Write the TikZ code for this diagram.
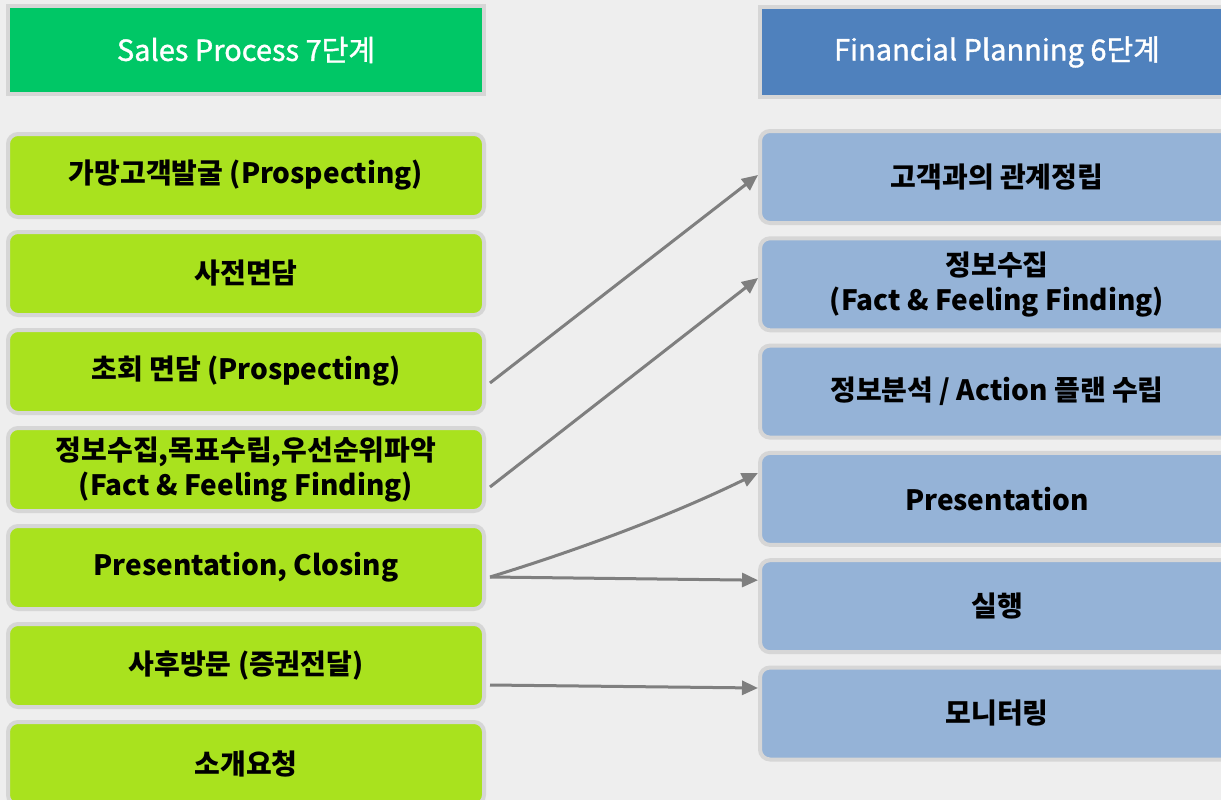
\documentclass[tikz,border=0pt]{standalone}
\usepackage{fontspec}
\setmainfont{Noto Sans CJK KR}
\newfontfamily\headfont{Noto Sans CJK KR}[FakeBold=1.2]
\usetikzlibrary{arrows.meta}
\definecolor{bg}{HTML}{EEEEEE}
\definecolor{edge}{HTML}{D6D6D6}
\definecolor{salesgreen}{HTML}{00C766}
\definecolor{fpblue}{HTML}{4F81BD}
\definecolor{lime}{HTML}{A9E21E}
\definecolor{paleblue}{HTML}{95B3D7}
\definecolor{link}{HTML}{7F7F7F}
\begin{document}
\begin{tikzpicture}[x=1pt,y=-1pt,
  header/.style={draw=edge, line width=4pt, inner sep=0pt, text=white,
    font=\headfont\fontsize{29}{34}\selectfont},
  leftbox/.style={draw=edge, fill=lime, line width=4pt, rounded corners=10pt,
    minimum width=476pt, minimum height=83pt, inner sep=0pt, align=center,
    font=\bfseries\fontsize{28}{35}\selectfont},
  rightbox/.style={draw=edge, fill=paleblue, line width=4pt, rounded corners=10pt,
    minimum width=474pt, minimum height=92pt, inner sep=0pt, align=center,
    font=\bfseries\fontsize{28}{35}\selectfont},
  link/.style={draw=link, line width=3pt, -{Triangle[length=16pt,width=14pt]}}]
\fill[bg] (0,0) rectangle (1221,800);
\clip (0,0) rectangle (1221,800);

% column headers
\node[header, fill=salesgreen, minimum width=476pt, minimum height=88pt] (hl) at (246,50) {Sales Process 7단계};
\node[header, fill=fpblue, minimum width=474pt, minimum height=90pt] (hr) at (997,52) {Financial Planning 6단계};

% sales process steps
\node[leftbox] (l1) at (246,175.5) {가망고객발굴 (Prospecting)};
\node[leftbox] (l2) at (246,273.5) {사전면담};
\node[leftbox] (l3) at (246,371.5) {초회 면담 (Prospecting)};
\node[leftbox] (l4) at (246,469.5) {정보수집,목표수립,우선순위파악\\(Fact \& Feeling Finding)};
\node[leftbox] (l5) at (246,567.5) {Presentation, Closing};
\node[leftbox] (l6) at (246,665.5) {사후방문 (증권전달)};
\node[leftbox] (l7) at (246,763.5) {소개요청};

% financial planning steps
\node[rightbox] (r1) at (997,177) {고객과의 관계정립};
\node[rightbox] (r2) at (997,284.3) {정보수집\\(Fact \& Feeling Finding)};
\node[rightbox] (r3) at (997,391.6) {정보분석 / Action 플랜 수립};
\node[rightbox] (r4) at (997,498.9) {Presentation};
\node[rightbox] (r5) at (997,606.2) {실행};
\node[rightbox] (r6) at (997,713.5) {모니터링};

% correspondences
\draw[link] ([shift={(4,11.5)}]l3.east) -- ([shift={(0,-2)}]r1.west);
\draw[link] ([shift={(4,17.5)}]l4.east) -- ([shift={(0,-6.3)}]r2.west);
\draw[link] ([shift={(4,9.5)}]l5.east)
  .. controls ([shift={(97,-19)}]l5.east) and ([shift={(188,-53.5)}]l5.east) ..
  ([shift={(0,-26)}]r4.west);
\draw[link] ([shift={(4,9.5)}]l5.east) -- ([shift={(0,-26)}]r5.west);
\draw[link] ([shift={(4,19.5)}]l6.east) -- ([shift={(0,-25.5)}]r6.west);
\end{tikzpicture}
\end{document}
